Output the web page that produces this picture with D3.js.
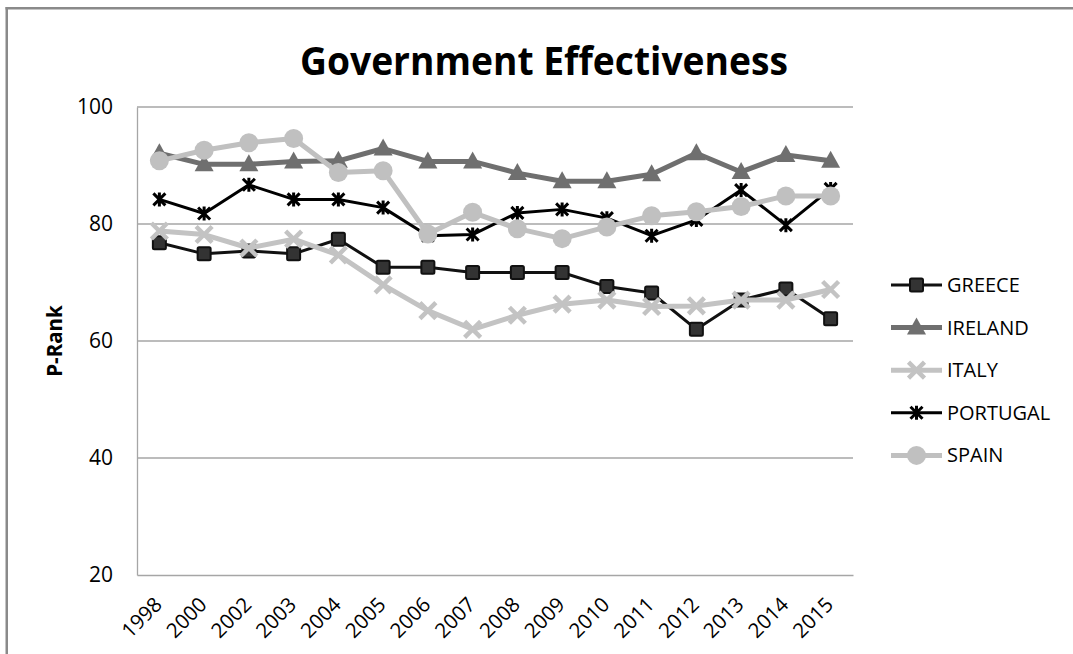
<!DOCTYPE html>
<html>
<head>
<meta charset="utf-8">
<script src="https://cdn.jsdelivr.net/npm/d3@7"></script>
<style>
  html, body { margin: 0; background: #fff; overflow: hidden; }
  svg { display: block; overflow: hidden; }
  text { font-family: "Open Sans", "DejaVu Sans", sans-serif; fill: #000; }
</style>
</head>
<body>
<div id="plot-container"></div>
<script>
// chart data
const years = ["1998", "2000", "2002", "2003", "2004", "2005", "2006", "2007",
               "2008", "2009", "2010", "2011", "2012", "2013", "2014", "2015"];
const yTicks = [20, 40, 60, 80, 100];

const greece   = [76.8, 74.9, 75.4, 74.9, 77.4, 72.6, 72.6, 71.7, 71.7, 71.7, 69.3, 68.2, 62.0, 67.0, 68.9, 63.8];
const ireland  = [92.1, 90.2, 90.2, 90.7, 90.8, 92.9, 90.7, 90.7, 88.7, 87.3, 87.3, 88.5, 92.1, 88.9, 91.8, 90.8];
const italy    = [78.8, 78.2, 75.9, 77.4, 74.7, 69.6, 65.2, 62.0, 64.4, 66.3, 67.0, 65.9, 66.0, 67.0, 67.0, 68.8];
const portugal = [84.2, 81.8, 86.7, 84.2, 84.2, 82.8, 78.0, 78.2, 81.9, 82.5, 81.0, 78.0, 80.7, 85.8, 79.8, 86.0];
const spain    = [90.8, 92.6, 93.9, 94.6, 88.8, 89.1, 78.3, 82.0, 79.2, 77.5, 79.5, 81.4, 82.1, 83.0, 84.8, 84.8];

const series = [
  {name: "GREECE",   values: greece,   color: "#111", width: 3,   marker: "square"},
  {name: "IRELAND",  values: ireland,  color: "#6f6f6f", width: 5, marker: "triangle"},
  {name: "ITALY",    values: italy,    color: "#c3c3c3", width: 5, marker: "x"},
  {name: "PORTUGAL", values: portugal, color: "#000", width: 3,   marker: "star"},
  {name: "SPAIN",    values: spain,    color: "#c0c0c0", width: 5, marker: "circle"}
];

const W = 1073, H = 654;
const margin = {top: 107, right: 220, bottom: 79, left: 137},
    width = W - margin.left - margin.right,
    height = H - margin.top - margin.bottom;

const root = d3.select("#plot-container")
  .append("svg")
    .attr("width", W)
    .attr("height", H);

// outer chart frame: only the left edge and the top edge are in view
root.append("rect")
    .attr("x", 5.5).attr("y", 7)
    .attr("width", 2.5).attr("height", H - 7)
    .attr("fill", "#8a8a8a");
root.append("rect")
    .attr("x", 5.5).attr("y", 7)
    .attr("width", W - 5.5).attr("height", 2.5)
    .attr("fill", "#8a8a8a");

root.append("text")
    .attr("x", 544)
    .attr("y", 75)
    .attr("text-anchor", "middle")
    .attr("font-size", 40)
    .attr("font-weight", "bold")
    .attr("textLength", 488)
    .attr("lengthAdjust", "spacingAndGlyphs")
    .text("Government Effectiveness");

root.append("text")
    .attr("transform", "translate(62,341) rotate(-90)")
    .attr("text-anchor", "middle")
    .attr("font-size", 20.5)
    .attr("font-weight", "bold")
    .text("P-Rank");

const svg = root.append("g")
    .attr("transform", `translate(${margin.left},${margin.top})`);

const x = d3.scaleBand()
    .domain(years)
    .range([0, width]);

const y = d3.scaleLinear()
    .domain([20, 100])
    .range([height, 0]);

// gridlines
svg.append("g")
  .selectAll("line")
  .data(yTicks.filter(d => d > 20))
  .enter()
  .append("line")
    .attr("x1", 0)
    .attr("x2", width)
    .attr("y1", d => y(d))
    .attr("y2", d => y(d))
    .attr("stroke", "#a6a6a6")
    .attr("stroke-width", 1.3);

// axes
const yAxis = svg.append("g")
    .call(d3.axisLeft(y).tickValues(yTicks).tickSize(0).tickSizeOuter(0).tickPadding(24));
yAxis.select(".domain").attr("stroke", "#a6a6a6").attr("stroke-width", 1.3);
yAxis.selectAll("text")
    .attr("font-size", 21)
    .attr("fill", "#000");

const xAxis = svg.append("g")
    .attr("transform", `translate(0,${height})`)
    .call(d3.axisBottom(x).tickSize(0).tickSizeOuter(0).tickPadding(0));
xAxis.select(".domain").attr("stroke", "#a6a6a6").attr("stroke-width", 1.3);
xAxis.selectAll("text")
    .attr("font-size", 20.5)
    .attr("fill", "#000")
    .attr("dy", 0)
    .attr("y", 0)
    .attr("transform", "translate(4,31) rotate(-45)")
    .style("text-anchor", "end");

const cx = d => x(d) + x.bandwidth() / 2;

// marker shapes
function drawMarker(g, s) {
  if (s.marker === "square") {
    g.append("rect")
        .attr("x", -6.5).attr("y", -6.5)
        .attr("width", 13).attr("height", 13)
        .attr("rx", 1.5)
        .attr("fill", "#333")
        .attr("stroke", "#111")
        .attr("stroke-width", 2);
  } else if (s.marker === "triangle") {
    g.append("path")
        .attr("d", "M0,-10L9.5,7L-9.5,7Z")
        .attr("fill", s.color);
  } else if (s.marker === "x") {
    g.append("path")
        .attr("d", "M-8,-8L8,8M-8,8L8,-8")
        .attr("stroke", s.color)
        .attr("stroke-width", 4.5);
  } else if (s.marker === "star") {
    g.append("path")
        .attr("d", "M-6,-6L6,6M-6,6L6,-6M0,-7V7")
        .attr("stroke", s.color)
        .attr("stroke-width", 3);
  } else {
    g.append("circle")
        .attr("r", 9.5)
        .attr("fill", s.color);
  }
}

const line = d3.line()
    .x((d, i) => cx(years[i]))
    .y(d => y(d));

series.forEach(s => {
  svg.append("path")
      .datum(s.values)
      .attr("d", line)
      .attr("fill", "none")
      .attr("stroke", s.color)
      .attr("stroke-width", s.width)
      .attr("stroke-linejoin", "round");

  svg.append("g")
    .selectAll("g")
    .data(s.values)
    .enter()
    .append("g")
      .attr("transform", (d, i) => `translate(${cx(years[i])},${y(d)})`)
      .each(function() { drawMarker(d3.select(this), s); });
});

// legend
const legend = root.append("g")
    .attr("transform", "translate(891,285)");

series.forEach((s, i) => {
  const row = legend.append("g")
      .attr("transform", `translate(0,${i * 42.6})`);
  row.append("line")
      .attr("x1", 0).attr("x2", 51)
      .attr("stroke", s.color)
      .attr("stroke-width", s.width);
  drawMarker(row.append("g").attr("transform", "translate(25.5,0)"), s);
  row.append("text")
      .attr("x", 56)
      .attr("dy", "0.35em")
      .attr("font-size", 20)
      .text(s.name);
});
</script>
</body>
</html>
